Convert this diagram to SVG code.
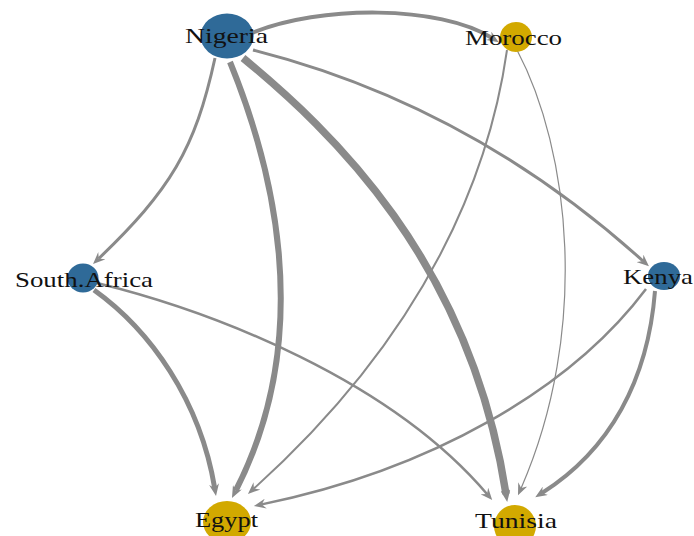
<svg xmlns="http://www.w3.org/2000/svg" width="694" height="536" viewBox="0 0 694 536">
<style>
.e{fill:none;stroke:#8a8a8a;marker-end:url(#ah)}
.blue{fill:#2f6a98}
.gold{fill:#d2a900}
.lbl{font-family:"Liberation Serif","Times New Roman",serif;font-size:22px;fill:#111}
</style>
<defs>
<marker id="ah" markerUnits="userSpaceOnUse" markerWidth="12" markerHeight="10" refX="4" refY="5" orient="auto">
<path d="M0,0 L12,5 L0,10 L4,5 z" fill="#8a8a8a"/>
</marker>
</defs>
<rect width="694" height="536" fill="#fff"/>
<g id="edges">
<path class="e" stroke-width="4" d="M252,33 C320,5 440,5 492,38"/>
<path class="e" stroke-width="3" d="M215,58 C195,150 170,190 98.8,258.5"/>
<path class="e" stroke-width="6" d="M230,62 C270,160 318,330 235.6,490.9"/>
<path class="e" stroke-width="7.5" d="M243,58 C330,130 470,260 506,494"/>
<path class="e" stroke-width="3" d="M253,50 Q470,105 643,261"/>
<path class="e" stroke-width="2" d="M507,50 C490,170 430,330 253.9,488.6"/>
<path class="e" stroke-width="1.2" d="M517,50 C570,150 590,330 521.2,488"/>
<path class="e" stroke-width="5" d="M94,290 C150,330 200,400 214.7,488.1"/>
<path class="e" stroke-width="2.5" d="M97,283 C215,312 390,380 487,494"/>
<path class="e" stroke-width="2.5" d="M646,289 C570,390 430,470 261.8,504.4"/>
<path class="e" stroke-width="4" d="M655,291 C648,380 610,450 542,493"/>
</g>
<g id="Nigeria"><ellipse class="blue" cx="227" cy="36" rx="26.5" ry="22.5"/><text class="lbl" x="185" y="43" textLength="83" lengthAdjust="spacingAndGlyphs">Nigeria</text></g>
<g id="Morocco"><ellipse class="gold" cx="516" cy="37" rx="16" ry="15"/><text class="lbl" x="465" y="45" textLength="97" lengthAdjust="spacingAndGlyphs">Morocco</text></g>
<g id="South.Africa"><ellipse class="blue" cx="83" cy="278" rx="15.5" ry="14.5"/><text class="lbl" x="15" y="287" textLength="138" lengthAdjust="spacingAndGlyphs">South.Africa</text></g>
<g id="Kenya"><ellipse class="blue" cx="664" cy="276" rx="16" ry="14"/><text class="lbl" x="623" y="284" textLength="70" lengthAdjust="spacingAndGlyphs">Kenya</text></g>
<g id="Egypt"><ellipse class="gold" cx="227" cy="522" rx="24" ry="21"/><text class="lbl" x="195" y="527" textLength="63" lengthAdjust="spacingAndGlyphs">Egypt</text></g>
<g id="Tunisia"><ellipse class="gold" cx="515" cy="526" rx="21" ry="21"/><text class="lbl" x="475" y="528" textLength="82" lengthAdjust="spacingAndGlyphs">Tunisia</text></g>
</svg>
